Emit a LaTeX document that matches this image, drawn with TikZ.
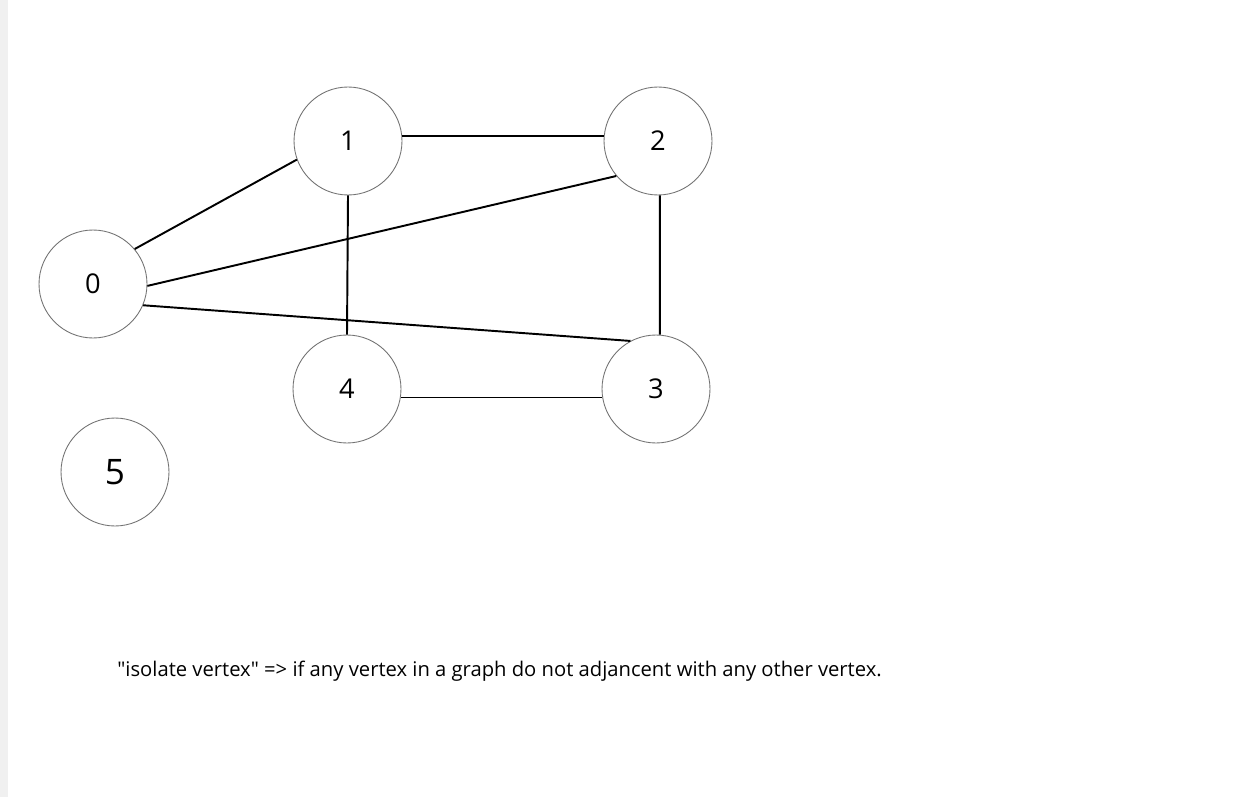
\documentclass[tikz,border=0pt]{standalone}
\usepackage{fontspec}
\setmainfont{Open Sans}[Ligatures=TeXOff]
\usetikzlibrary{positioning}

\begin{document}
\begin{tikzpicture}[
  x=0.02cm, y=-0.02cm,
  vertex/.style={circle, draw=black!55, line width=0.5pt, minimum size=2.16cm, inner sep=0pt, font=\fontsize{15.5}{18}\selectfont},
  link/.style={draw=black, line width=1.1pt}]

  \useasboundingbox (0,0) rectangle (1257,797);
  \fill[black!6] (0,0) rectangle (8,797);

  \node[vertex](v0) at (93,284) {0};
  \node[vertex](v1) at (348,141) {1};
  \node[vertex](v2) at (658,141) {2};
  \node[vertex](v3) at (656,389) {3};
  \node[vertex](v4) at (347,389) {4};
  \node[vertex, font=\fontsize{20}{24}\selectfont](v5) at (115,472) {5};

  \draw[link] (v0.40) -- (v1.200);
  \draw[link] (v0.-2) -- (v2.220);
  \draw[link] (v0.-23) -- (v3.118);
  \draw[link] (v1.5) -- (v2.175);
  \draw[link] (v1.-90) -- (v4.90);
  \draw[link] (v2.-88) -- (v3.86);
  \draw[link] (v4.-9) -- (v3.189);

  \node[anchor=base west, inner sep=0pt, font=\fontsize{11.5}{14}\selectfont](note) at (117,676)
    {"isolate vertex" => if any vertex in a graph do not adjancent with any other vertex.};
\end{tikzpicture}
\end{document}
